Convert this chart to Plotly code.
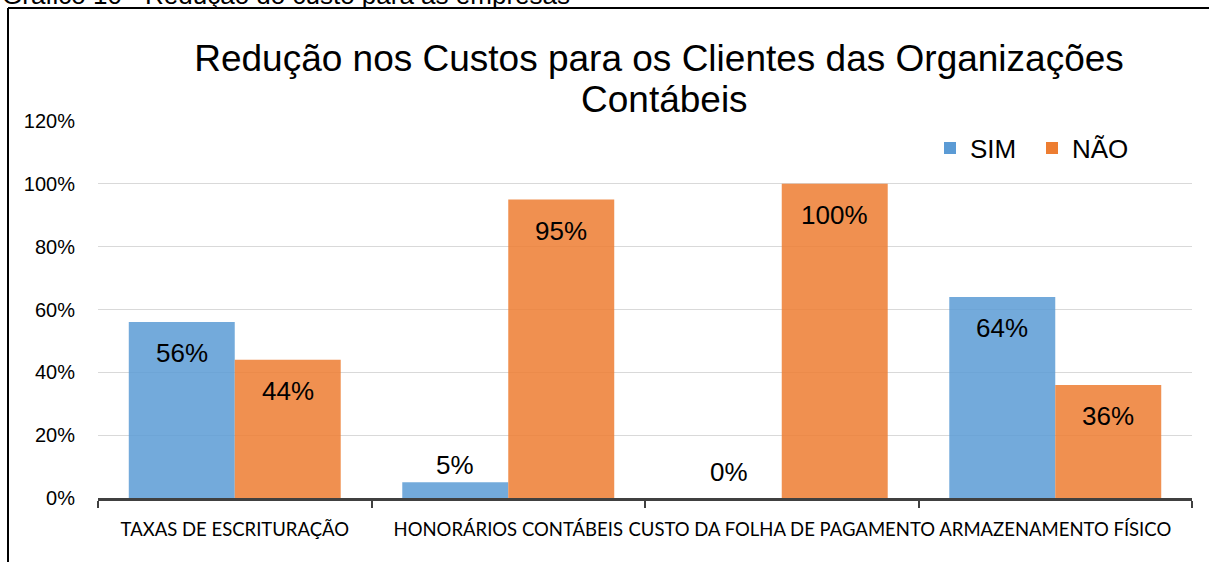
import plotly.graph_objects as go

categories = ["TAXAS DE ESCRITURAÇÃO", "HONORÁRIOS CONTÁBEIS", "CUSTO DA FOLHA DE PAGAMENTO", "ARMAZENAMENTO FÍSICO"]
sim_values = [56, 5, 0, 64]
nao_values = [44, 95, 100, 36]
y_ticks = [0, 20, 40, 60, 80, 100, 120]
title_line1 = "Redução nos Custos para os Clientes das Organizações"
title_line2 = "Contábeis"
caption_text = "Gráfico 10 - Redução do custo para as empresas"

BLUE = "#5B9BD5"
ORANGE = "#ED7D31"
FONT = "Liberation Sans, Arial"

W, H = 1209, 562
ML, MR, MT, MB = 98, 17, 121, 64
PW = W - ML - MR
PH = H - MT - MB


def px_x(px):
    return (px - ML) / PW


def px_y(py):
    return (MT + PH - py) / PH


fig = go.Figure()
fig.add_trace(go.Bar(name="SIM", x=categories, y=sim_values,
                     marker=dict(color=BLUE, opacity=0.85, line=dict(width=0))))
fig.add_trace(go.Bar(name="NÃO", x=categories, y=nao_values,
                     marker=dict(color=ORANGE, opacity=0.85, line=dict(width=0))))

# data labels
group_px = PW / len(categories)
bar_px = group_px * 0.775 / 2
annotations = []
for vals, sign in ((sim_values, -1), (nao_values, 1)):
    for c, v in zip(categories, vals):
        annotations.append(dict(
            x=c, y=v, xref="x", yref="y", text=f"{v}%", showarrow=False,
            xshift=sign * bar_px / 2, yshift=(-31 if v >= 20 else (26 if v == 0 else 17)),
            font=dict(family=FONT, size=26, color="#000000"),
            xanchor="center", yanchor="middle"))

# title second line
annotations.append(dict(
    x=px_x(664), y=px_y(99), xref="paper", yref="paper", text=title_line2, showarrow=False,
    xanchor="center", yanchor="middle", font=dict(family=FONT, size=37, color="#000000")))

# caption (clipped at top of page)
annotations.append(dict(
    x=px_x(0), y=px_y(-5), xref="paper", yref="paper",
    text=caption_text, showarrow=False, xanchor="left", yanchor="middle",
    font=dict(family=FONT, size=26, color="#000000")))

shapes = [
    dict(type="line", xref="paper", yref="paper", x0=px_x(8), x1=px_x(8),
         y0=px_y(8), y1=px_y(600), line=dict(color="#000000", width=2)),
    dict(type="line", xref="paper", yref="paper", x0=px_x(8), x1=px_x(1240),
         y0=px_y(8), y1=px_y(8), line=dict(color="#000000", width=2)),
]

fig.update_layout(
    width=W, height=H, autosize=False,
    margin=dict(l=ML, r=MR, t=MT, b=MB, pad=0, autoexpand=False),
    paper_bgcolor="white", plot_bgcolor="white",
    barmode="group", bargap=0.225, bargroupgap=0,
    title=dict(text=title_line1, x=659 / W, xanchor="center", y=1 - 58 / H, yanchor="middle",
               font=dict(family=FONT, size=37, color="#000000")),
    legend=dict(orientation="h", x=px_x(930), y=px_y(148), xanchor="left", yanchor="middle",
                font=dict(family=FONT, size=26, color="#000000"),
                bgcolor="rgba(0,0,0,0)", itemwidth=30, traceorder="normal",
                entrywidth=57, entrywidthmode="pixels"),
    annotations=annotations,
    shapes=shapes,
    showlegend=True,
)
fig.update_xaxes(type="category", tickson="boundaries", ticks="outside", ticklen=7, tickwidth=2,
                 tickcolor="#404040", showline=True, linecolor="#404040", linewidth=3,
                 showgrid=False, ticklabelstandoff=13, tickangle=0, automargin=False,
                 tickfont=dict(family="Lato, Carlito, Calibri", size=18.5, color="#000000"))
fig.update_yaxes(range=[0, 120], tickmode="array", tickvals=y_ticks, ticktext=[f"{v}%" for v in y_ticks],
                 showgrid=True, gridcolor="#D9D9D9", automargin=False,
                 gridwidth=1, zeroline=False, showline=False, ticks="", ticklabelstandoff=22,
                 tickfont=dict(family=FONT, size=20, color="#000000"))

fig.write_html("out.html", config={"displayModeBar": False},
               post_script="document.body.style.margin='0';document.body.style.overflow='hidden';")
